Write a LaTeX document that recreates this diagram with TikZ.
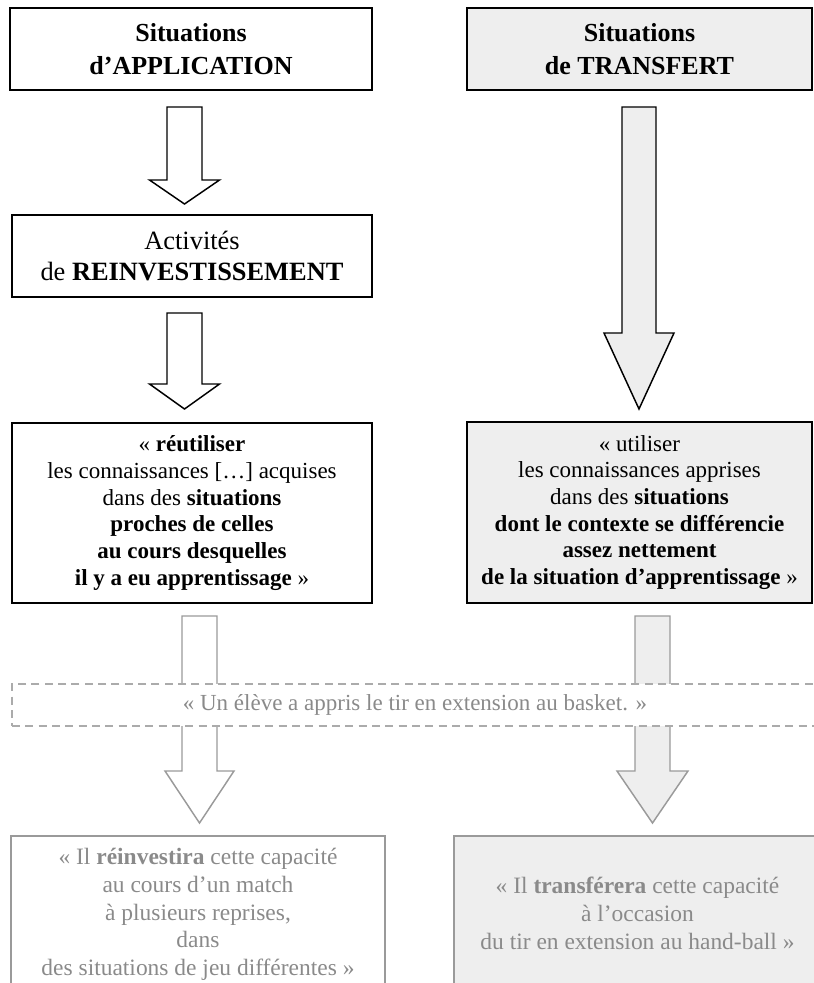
\documentclass[tikz,border=0pt]{standalone}
\usepackage{fontspec}
\setmainfont{Liberation Serif}
\usetikzlibrary{calc}

\definecolor{paleshade}{HTML}{EEEEEE}
\definecolor{softline}{HTML}{9A9A9A}
\definecolor{softtext}{HTML}{8A8A8A}
\definecolor{dashline}{HTML}{ABABAB}

% block arrow: style, centre x, half shaft, half head, top y, head y, tip y
\newcommand\blockarrow[7]{%
  \draw[#1] (#2-#3,#5) -- (#2-#3,#6) -- (#2-#4,#6) -- (#2,#7)
    -- (#2+#4,#6) -- (#2+#3,#6) -- (#2+#3,#5) -- cycle;}

\begin{document}
\begin{tikzpicture}[x=0.75pt,y=-0.75pt,
  headbox/.style={draw=black,line width=1.9pt,inner sep=0pt,align=center,
    minimum height=61.5pt,font=\fontsize{19.5}{24.75}\selectfont\bfseries},
  midbox/.style={draw=black,line width=1.5pt,inner sep=0pt,align=center,
    font=\fontsize{17.25}{20}\selectfont},
  lowbox/.style={draw=softline,line width=1.1pt,inner sep=0pt,align=center,
    text=softtext,font=\fontsize{17.6}{20.8}\selectfont},
  darrow/.style={draw=black,line width=1.1pt,line join=miter},
  larrow/.style={draw=softline,line width=1.1pt,line join=miter},
  shaded/.style={fill=paleshade}]

\useasboundingbox (0,0) rectangle (814,983);
\clip (0,0) rectangle (814,983);

% top row
\node[headbox,minimum width=271.5pt] (app) at (191,49)
  {Situations\\d’APPLICATION};
\node[headbox,shaded,minimum width=258.75pt] (trans) at (639.5,49)
  {Situations\\de TRANSFERT};

% left column, second level
\node[midbox,minimum width=270pt,minimum height=61.5pt,
  font=\fontsize{19.8}{23}\selectfont] (reinv) at (192,256)
  {Activités\\de \textbf{REINVESTISSEMENT}};

% arrows of the upper part
\blockarrow{darrow}{184.5}{17.5}{35}{107}{180}{204}
\blockarrow{darrow}{184.5}{17.5}{35}{313}{384}{409}
\blockarrow{darrow,shaded}{639}{17}{35}{107}{333}{409}

% definitions
\node[midbox,minimum width=270pt,minimum height=135pt] (reut) at (192,513)
  {« \textbf{réutiliser}\\
   les connaissances […] acquises\\
   dans des \textbf{situations}\\
   \textbf{proches de celles}\\
   \textbf{au cours desquelles}\\
   \textbf{il y a eu apprentissage} »};
\node[midbox,shaded,minimum width=258.75pt,minimum height=135.75pt] (util)
  at (639.5,512.5)
  {« utiliser\\
   les connaissances apprises\\
   dans des \textbf{situations}\\
   \textbf{dont le contexte se différencie}\\
   \textbf{assez nettement}\\
   \textbf{de la situation d’apprentissage} »};

% arrows of the lower part
\blockarrow{larrow,fill=white}{199.5}{17.5}{34.5}{616}{771}{823}
\blockarrow{larrow,shaded}{652.5}{17.5}{35.5}{616}{771}{823}

% example strip over the arrows
\node[draw=dashline,dashed,dash pattern=on 6pt off 4pt,line width=1.1pt,
  fill=white,minimum width=604.5pt,minimum height=31.5pt,inner sep=0pt,
  text=softtext,font=\fontsize{17.25}{20}\selectfont] (example) at (415,705)
  {« Un élève a appris le tir en extension au basket. »};

% examples
\node[lowbox,minimum width=280.5pt,minimum height=117.75pt] (reinvex)
  at (198,914.5)
  {« Il \textbf{réinvestira} cette capacité\\
   au cours d’un match\\
   à plusieurs reprises,\\
   dans\\
   des situations de jeu différentes »};
\node[lowbox,shaded,minimum width=275.25pt,minimum height=116.25pt] (transex)
  at (637.5,913.5)
  {« Il \textbf{transférera} cette capacité\\
   à l’occasion\\
   du tir en extension au hand-ball »};
\end{tikzpicture}
\end{document}
